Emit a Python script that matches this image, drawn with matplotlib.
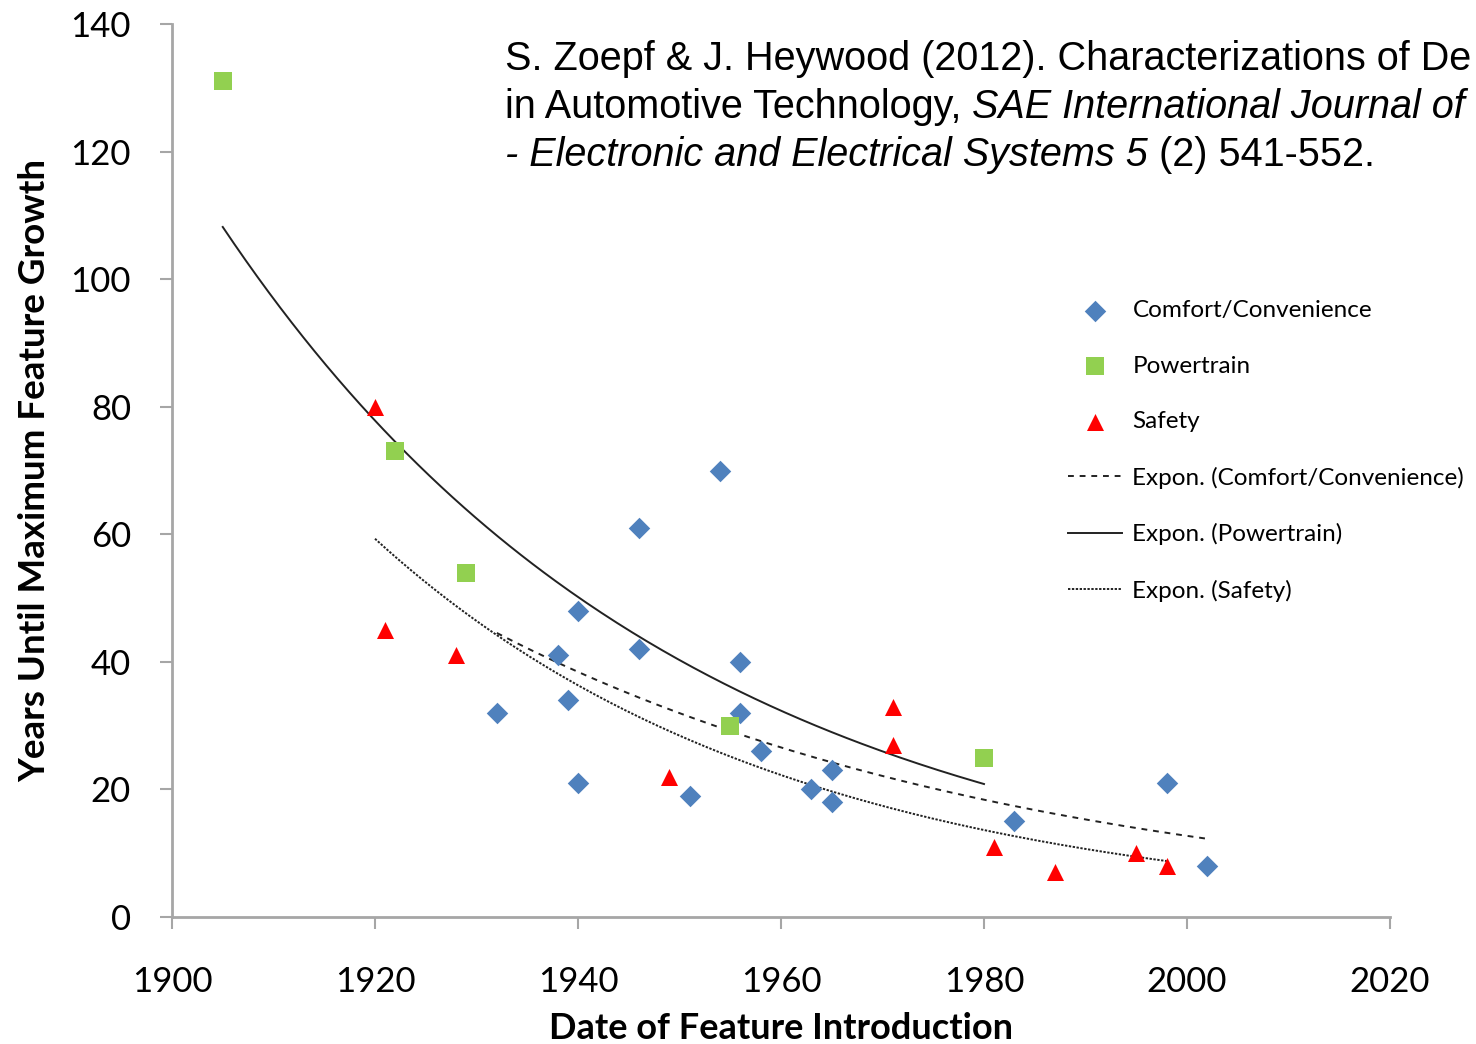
import numpy as np
import matplotlib
matplotlib.use("Agg")
import matplotlib.pyplot as plt

# data
comfort_year = [1932, 1938, 1939, 1940, 1940, 1946, 1946, 1951, 1954, 1956, 1956, 1958, 1963, 1965, 1965, 1983, 1998, 2002]
comfort_years = [32, 41, 34, 48, 21, 61, 42, 19, 70, 40, 32, 26, 20, 23, 18, 15, 21, 8]

power_year = [1905, 1922, 1929, 1955, 1980]
power_years = [131, 73, 54, 30, 25]

safety_year = [1920, 1921, 1928, 1949, 1971, 1971, 1981, 1987, 1995, 1998]
safety_years = [80, 45, 41, 22, 33, 27, 11, 7, 10, 8]

x_ticks = [1900, 1920, 1940, 1960, 1980, 2000, 2020]
y_ticks = [0, 20, 40, 60, 80, 100, 120, 140]

cite_font = "Liberation Sans"
plt.rcParams['font.family'] = ['Lato', 'DejaVu Sans']

fig = plt.figure(figsize=(14.76, 10.44), dpi=100)
ax = fig.add_axes([172 / 1476, 1 - 917 / 1044, 1218 / 1476, 893 / 1044])


def expon_fit(x, y):
    # same as Excel's exponential trendline: straight line through log(y)
    x = np.array(x, dtype=float)
    b, a = np.polyfit(x, np.log(y), 1)
    xs = np.linspace(x.min(), x.max(), 200)
    return xs, np.exp(a + b * xs)


ax.scatter(comfort_year, comfort_years, marker='D', s=120, color='#4F81BD', linewidths=0, label='Comfort/Convenience', zorder=3)
ax.scatter(power_year, power_years, marker='s', s=170, color='#92D050', linewidths=0, label='Powertrain', zorder=3)
ax.scatter(safety_year, safety_years, marker='^', s=150, color='#FF0000', linewidths=0, label='Safety', zorder=3)

xs, ys = expon_fit(comfort_year, comfort_years)
ax.plot(xs, ys, color='#222222', lw=1.4, linestyle=(0, (3, 3)), label='Expon. (Comfort/Convenience)', zorder=2)
xs, ys = expon_fit(power_year, power_years)
ax.plot(xs, ys, color='#222222', lw=1.4, linestyle='-', label='Expon. (Powertrain)', zorder=2)
xs, ys = expon_fit(safety_year, safety_years)
ax.plot(xs, ys, color='#222222', lw=1.4, linestyle=(0, (1.2, 0.8)), label='Expon. (Safety)', zorder=2)

ax.set_xlim(1900, 2020)
ax.set_ylim(0, 140)
ax.set_xticks(x_ticks)
ax.set_yticks(y_ticks)
ax.tick_params(axis='both', direction='out', length=8.5, width=1.5, color='#A6A6A6', labelsize=25)
ax.tick_params(axis='x', pad=27)
ax.tick_params(axis='y', pad=21)
for side in ['top', 'right']:
    ax.spines[side].set_visible(False)
for side in ['left', 'bottom']:
    ax.spines[side].set_color('#A6A6A6')
    ax.spines[side].set_linewidth(2)

ax.set_xlabel('Date of Feature Introduction', fontsize=26, fontweight='bold', labelpad=10)
ax.set_ylabel('Years Until Maximum Feature Growth', fontsize=26.5, fontweight='bold', labelpad=14)

ax.legend(loc='upper left', bbox_to_anchor=(0.7257, 0.7045), frameon=False, fontsize=17.5,
          handlelength=2.2, handletextpad=0.45, labelspacing=1.42, borderpad=0)

# citation text with mixed italics, each segment chained to the previous one
lines = [
    [("S. Zoepf & J. Heywood (2012). Characterizations of De", 'normal')],
    [("in Automotive Technology, ", 'normal'), ("SAE International Journal of", 'italic')],
    [("- Electronic and Electrical Systems 5", 'italic'), (" (2) 541-552.", 'normal')],
]
y0 = 1 - 70 / 1044
for i, segs in enumerate(lines):
    last = None
    for txt, style in segs:
        if last is None:
            last = fig.text(505 / 1476, y0 - i * 48 / 1044, txt, fontsize=28.5, family=cite_font,
                            style=style, ha='left', va='baseline')
        else:
            last = ax.annotate(txt, xy=(1, 0), xycoords=last, fontsize=28.5, family=cite_font,
                               style=style, ha='left', va='bottom', annotation_clip=False)

fig.savefig('out.png', dpi=100)
